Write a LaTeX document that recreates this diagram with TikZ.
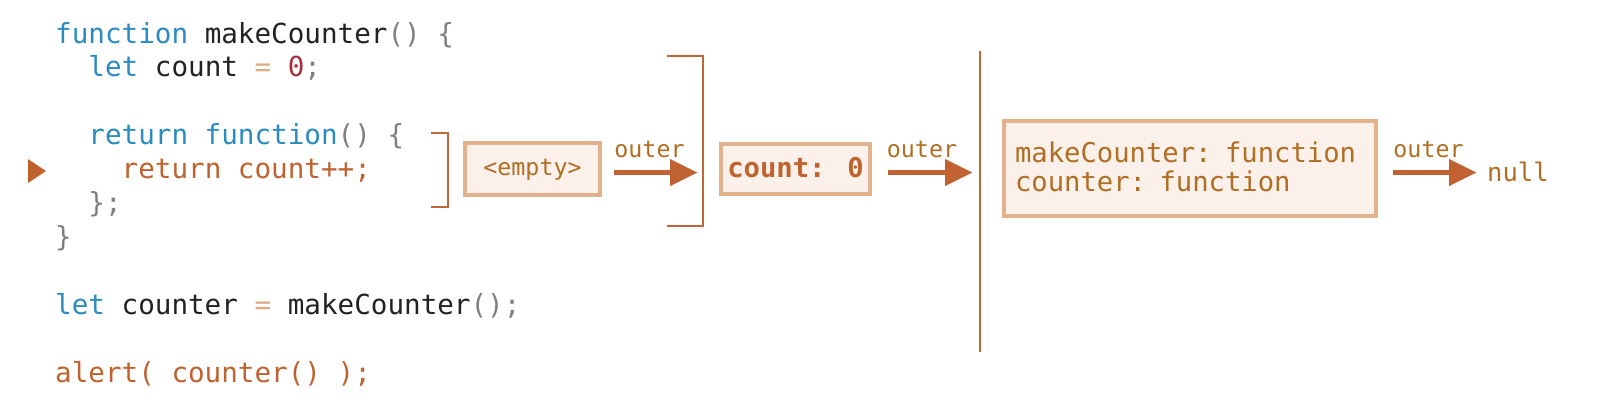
\documentclass[tikz,border=0pt]{standalone}
\usepackage{fontspec}
\usetikzlibrary{arrows.meta}
\newfontfamily\codefont{DejaVu Sans Mono}
\definecolor{kwblue}{HTML}{2A8BBF}
\definecolor{idblack}{HTML}{222222}
\definecolor{pgray}{HTML}{7F7F7F}
\definecolor{optan}{HTML}{DDAA82}
\definecolor{numred}{HTML}{A8303C}
\definecolor{strorg}{HTML}{C0622F}
\definecolor{lblbrown}{HTML}{B06E22}
\definecolor{arrorg}{HTML}{C16232}
\definecolor{boxline}{HTML}{E1B28C}
\definecolor{boxfill}{HTML}{FBF1EA}
\definecolor{brk}{HTML}{C1653A}
\newcommand\cKw[1]{\textcolor{kwblue}{#1}}
\newcommand\cPn[1]{\textcolor{pgray}{#1}}
\newcommand\cOp[1]{\textcolor{optan}{#1}}
\newcommand\cNum[1]{\textcolor{numred}{#1}}
\newcommand\cStr[1]{\textcolor{strorg}{#1}}
\tikzset{
  codeline/.style={anchor=base west, inner sep=0pt, text=idblack,
    font=\codefont\fontsize{27.6}{33.9}\selectfont},
  envbox/.style={draw=boxline, fill=boxfill, line width=4pt, inner sep=0pt},
  lbl/.style={font=\codefont\fontsize{23.3}{28}\selectfont, text=lblbrown, inner sep=0pt},
  arr/.style={draw=arrorg, line width=5pt,
    -{Triangle[length=27pt,width=27pt,line width=0.01pt]}},
  bracketline/.style={draw=brk, line width=2pt},
}
\begin{document}
\begin{tikzpicture}[x=1pt,y=-1pt]
\useasboundingbox (0,0) rectangle (1608,400);

% code
\node[codeline] (c0) at (55,43) {\cKw{function} makeCounter\cPn{()} \cPn{\{}};
\node[codeline] (c1) at (88.24,76.9) {\cKw{let} count \cOp{=} \cNum{0}\cPn{;}};
\node[codeline] (c3) at (88.24,144.7) {\cKw{return function}\cPn{()} \cPn{\{}};
\node[codeline] (c4) at (121.48,178.6) {\cStr{return count++;}};
\node[codeline] (c5) at (88.24,212.5) {\cPn{\};}};
\node[codeline] (c6) at (55,246.4) {\cPn{\}}};
\node[codeline] (c8) at (55,314.2) {\cKw{let} counter \cOp{=} makeCounter\cPn{();}};
\node[codeline] (c10) at (55,382) {\cStr{alert( counter() );}};

% execution marker
\fill[strorg] (28,159) -- (46,171) -- (28,183) -- cycle;

% brackets
\draw[bracketline] (431,133) -- (448,133) -- (448,207) -- (431,207);
\draw[bracketline] (667,56) -- (703,56) -- (703,226) -- (667,226);
\draw[bracketline] (980,51) -- (980,352);
\coordinate (bk1) at (703,172.5);
\coordinate (vl) at (980,172.5);

% environment boxes
\node[envbox, minimum width=135pt, minimum height=52pt,
      font=\codefont\fontsize{23.3}{28}\selectfont, text=lblbrown,
      text height=15pt, text depth=3pt] (empty) at (532.5,169) {<empty>};
\node[envbox, minimum width=149pt, minimum height=50pt,
      font=\codefont\bfseries\fontsize{27.2}{30}\selectfont, text=strorg,
      text height=19pt, text depth=3pt] (cnt) at (795.5,169) {count: 0};
\node[envbox, minimum width=372pt, minimum height=95pt, text width=350pt, align=left,
      font=\codefont\fontsize{27.2}{29}\selectfont, text=lblbrown,
      text height=20pt, text depth=33pt] (lex) at (1190,168.5) {makeCounter: function\\counter: function};
\node[lbl, anchor=base west, font=\codefont\fontsize{25.5}{30}\selectfont] (null) at (1487,181) {null};

% outer references
\draw[arr, shorten <=12pt, shorten >=6pt] ([yshift=-3.5pt]empty.east) --
  node[lbl, anchor=base, yshift=15.5pt, xshift=-3pt] {outer} ([yshift=-3.5pt]empty.east -| bk1);
\draw[arr, shorten <=16pt, shorten >=8pt] ([yshift=-3.5pt]cnt.east) --
  node[lbl, anchor=base, yshift=15.5pt, xshift=-4pt] {outer} ([yshift=-3.5pt]cnt.east -| vl);
\draw[arr, shorten <=15pt, shorten >=11pt] ([yshift=-4pt]lex.east) --
  node[lbl, anchor=base, yshift=15.5pt, xshift=-4pt] {outer} ([yshift=-4pt]lex.east -| null.west);
\end{tikzpicture}
\end{document}
